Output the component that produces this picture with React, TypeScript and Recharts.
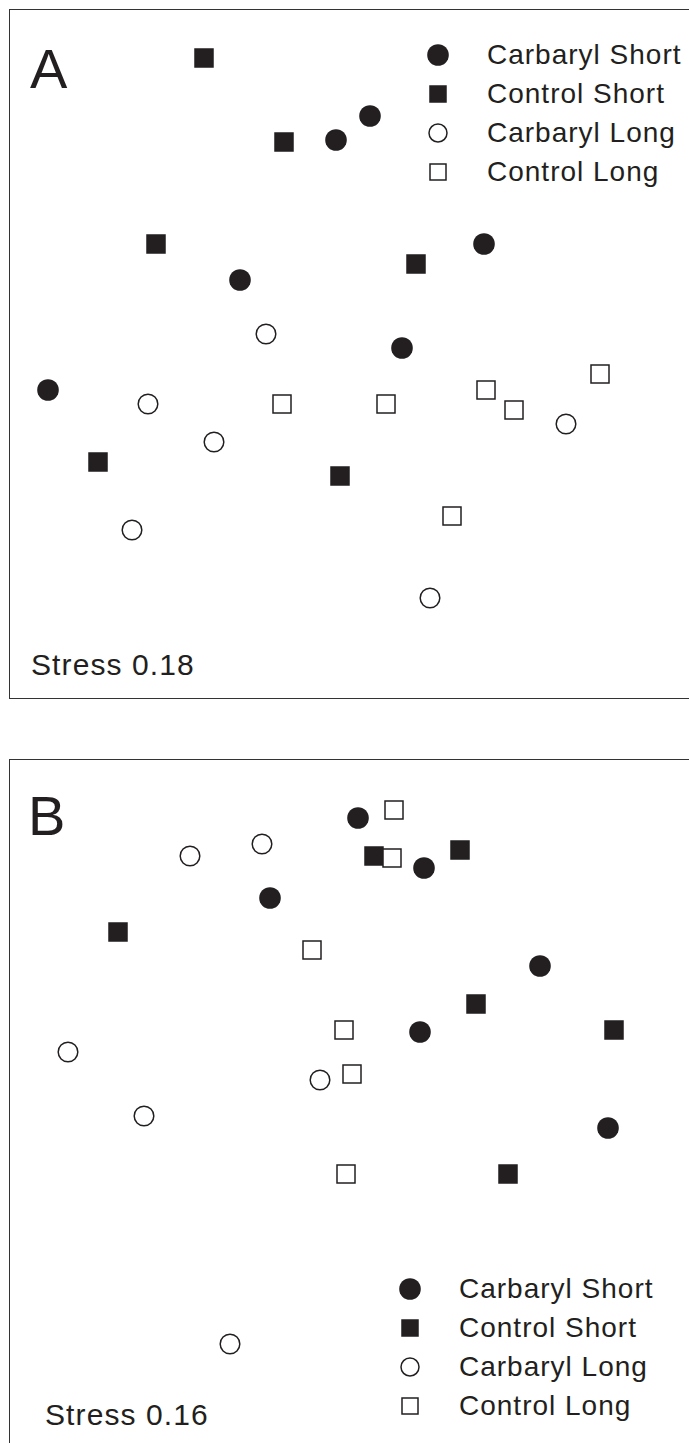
import { ScatterChart, Scatter, XAxis, YAxis, Legend } from "recharts";

// NMDS ordination scores (axis units, arbitrary)
const groups = ["Carbaryl Short", "Control Short", "Carbaryl Long", "Control Long"];

// panel A
const carbarylShortA = [
  { x: -0.07, y: 1.07 },
  { x: 0.1, y: 1.19 },
  { x: 0.67, y: 0.55 },
  { x: -0.55, y: 0.37 },
  { x: 0.26, y: 0.03 },
  { x: -1.51, y: -0.18 },
];
const controlShortA = [
  { x: -0.73, y: 1.48 },
  { x: -0.33, y: 1.06 },
  { x: -0.97, y: 0.55 },
  { x: 0.33, y: 0.45 },
  { x: -1.26, y: -0.54 },
  { x: -0.05, y: -0.61 },
];
const carbarylLongA = [
  { x: -0.42, y: 0.1 },
  { x: -1.01, y: -0.25 },
  { x: -0.68, y: -0.44 },
  { x: 1.08, y: -0.35 },
  { x: -1.09, y: -0.88 },
  { x: 0.4, y: -1.22 },
];
const controlLongA = [
  { x: -0.34, y: -0.25 },
  { x: 0.18, y: -0.25 },
  { x: 0.68, y: -0.18 },
  { x: 0.82, y: -0.28 },
  { x: 1.25, y: -0.1 },
  { x: 0.51, y: -0.81 },
];

// panel B
const carbarylShortB = [
  { x: 0.04, y: 1.43 },
  { x: 0.37, y: 1.18 },
  { x: -0.4, y: 1.03 },
  { x: 0.95, y: 0.69 },
  { x: 0.35, y: 0.36 },
  { x: 1.29, y: -0.12 },
];
const controlShortB = [
  { x: 0.12, y: 1.24 },
  { x: 0.55, y: 1.27 },
  { x: -1.16, y: 0.86 },
  { x: 0.63, y: 0.5 },
  { x: 1.32, y: 0.37 },
  { x: 0.79, y: -0.35 },
];
const carbarylLongB = [
  { x: -0.8, y: 1.24 },
  { x: -0.44, y: 1.3 },
  { x: -1.41, y: 0.26 },
  { x: -1.03, y: -0.06 },
  { x: -0.15, y: 0.12 },
  { x: -0.6, y: -1.2 },
];
const controlLongB = [
  { x: 0.22, y: 1.47 },
  { x: 0.21, y: 1.23 },
  { x: -0.19, y: 0.77 },
  { x: -0.03, y: 0.37 },
  { x: 0.01, y: 0.15 },
  { x: -0.02, y: -0.35 },
];

const xDomain = [-1.7, 1.7];
const yDomain = [-1.72, 1.72];

const ink = "#231f20";
const font = "'Liberation Sans', Arial, sans-serif";

const glyph = (name: string, cx: number, cy: number, legend = false) => {
  if (name === "Carbaryl Short")
    return <circle cx={cx} cy={cy} r={legend ? 10.8 : 10.8} fill={ink} />;
  if (name === "Control Short") {
    const s = legend ? 17.5 : 19.5;
    return <rect x={cx - s / 2} y={cy - s / 2} width={s} height={s} fill={ink} />;
  }
  if (name === "Carbaryl Long")
    return (
      <circle cx={cx} cy={cy} r={legend ? 9 : 9.8} fill="#fff" stroke={ink} strokeWidth={1.5} />
    );
  const s = legend ? 16 : 18;
  return (
    <rect
      x={cx - s / 2}
      y={cy - s / 2}
      width={s}
      height={s}
      fill="#fff"
      stroke={ink}
      strokeWidth={1.5}
    />
  );
};

const shapeFor = (name: string) => (props: any) => glyph(name, props.cx, props.cy);

const LegendBox = () => (
  <div style={{ fontFamily: font, color: ink }}>
    {groups.map((g) => (
      <div key={g} style={{ display: "flex", alignItems: "center", height: 39 }}>
        <svg width={24} height={24}>
          {glyph(g, 12, 12, true)}
        </svg>
        <span style={{ marginLeft: 37, fontSize: 28, letterSpacing: 1, lineHeight: "39px" }}>
          {g}
        </span>
      </div>
    ))}
  </div>
);

type PanelProps = {
  top: number;
  series: { x: number; y: number }[][];
  legendTop: number;
  legendLeft: number;
};

function Panel({ top, series, legendTop, legendLeft }: PanelProps) {
  return (
    <div
      style={{
        position: "absolute",
        left: 9,
        top,
        width: 710,
        height: 688,
        border: "1.5px solid #333",
      }}
    >
      <ScatterChart width={680} height={688} margin={{ top: 0, right: 0, bottom: 0, left: 0 }}>
        <XAxis type="number" dataKey="x" domain={xDomain} allowDataOverflow hide />
        <YAxis type="number" dataKey="y" domain={yDomain} allowDataOverflow hide />
        {groups.map((g, i) => (
          <Scatter
            key={g}
            name={g}
            data={series[i]}
            shape={shapeFor(g)}
            isAnimationActive={false}
          />
        ))}
        <Legend
          layout="vertical"
          align="center"
          verticalAlign="middle"
          content={() => <LegendBox />}
          wrapperStyle={{ top: legendTop, left: legendLeft, width: "auto", height: "auto" }}
        />
      </ScatterChart>
    </div>
  );
}

const labelStyle = {
  position: "absolute" as const,
  fontFamily: font,
  color: ink,
  margin: 0,
  whiteSpace: "nowrap" as const,
};

export default function App() {
  return (
    <div
      style={{
        position: "absolute",
        left: 0,
        top: 0,
        width: 689,
        height: 1443,
        overflow: "hidden",
        background: "#fff",
      }}
    >
      <Panel
        top={9}
        series={[carbarylShortA, controlShortA, carbarylLongA, controlLongA]}
        legendTop={25}
        legendLeft={416}
      />
      <Panel
        top={759}
        series={[carbarylShortB, controlShortB, carbarylLongB, controlLongB]}
        legendTop={509}
        legendLeft={388}
      />
      <div style={{ ...labelStyle, left: 30, top: 40.6, fontSize: 56, lineHeight: "56px" }}>A</div>
      <div style={{ ...labelStyle, left: 28, top: 787.6, fontSize: 56, lineHeight: "56px" }}>B</div>
      <div
        style={{ ...labelStyle, left: 31, top: 649.6, fontSize: 30, lineHeight: "30px", letterSpacing: 1.1 }}
      >
        Stress 0.18
      </div>
      <div
        style={{ ...labelStyle, left: 45, top: 1399.6, fontSize: 30, lineHeight: "30px", letterSpacing: 1.1 }}
      >
        Stress 0.16
      </div>
    </div>
  );
}
